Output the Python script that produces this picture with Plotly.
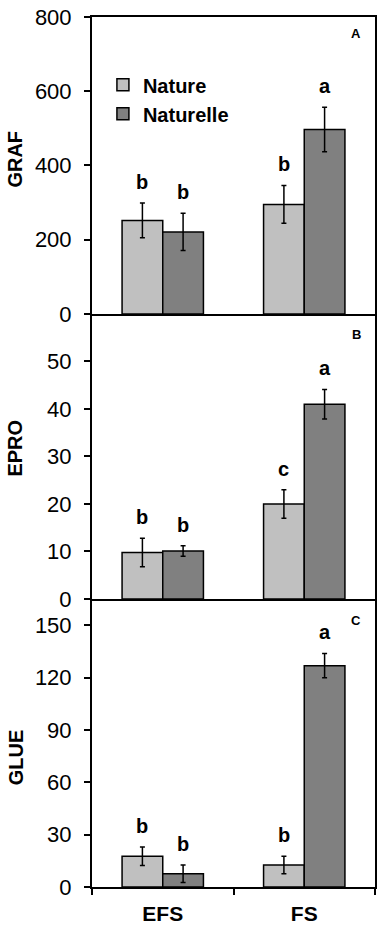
import plotly.graph_objects as go
from plotly.subplots import make_subplots

categories = ["EFS", "FS"]
series_names = ["Nature", "Naturelle"]

graf_nature = [252, 295]
graf_nature_err = [47, 51]
graf_naturelle = [221, 497]
graf_naturelle_err = [50, 60]
graf_letters_nature = ["b", "b"]
graf_letters_naturelle = ["b", "a"]

epro_nature = [9.8, 20.0]
epro_nature_err = [3.0, 3.0]
epro_naturelle = [10.1, 41.0]
epro_naturelle_err = [1.1, 3.1]
epro_letters_nature = ["b", "c"]
epro_letters_naturelle = ["b", "a"]

glue_nature = [17.6, 12.6]
glue_nature_err = [5.3, 5.0]
glue_naturelle = [7.6, 126.8]
glue_naturelle_err = [5.0, 7.0]
glue_letters_nature = ["b", "b"]
glue_letters_naturelle = ["b", "a"]

y_titles = ["GRAF", "EPRO", "GLUE"]
panel_labels = ["A", "B", "C"]
y_ranges = [[0, 800], [0, 60], [0, 165]]
y_ticks = [[0, 200, 400, 600, 800], [0, 10, 20, 30, 40, 50], [0, 30, 60, 90, 120, 150]]

FONT = "Arial, Liberation Sans, sans-serif"
colors = ["#c0c0c0", "#808080"]

panels = [
    (graf_nature, graf_nature_err, graf_naturelle, graf_naturelle_err, graf_letters_nature, graf_letters_naturelle),
    (epro_nature, epro_nature_err, epro_naturelle, epro_naturelle_err, epro_letters_nature, epro_letters_naturelle),
    (glue_nature, glue_nature_err, glue_naturelle, glue_naturelle_err, glue_letters_nature, glue_letters_naturelle),
]

fig = make_subplots(rows=3, cols=1, shared_xaxes=True, vertical_spacing=0)

annotations = []
for i, (nv, ne, lv, le, nl, ll) in enumerate(panels):
    row = i + 1
    for j, (vals, errs, letters) in enumerate([(nv, ne, nl), (lv, le, ll)]):
        fig.add_trace(go.Bar(
            x=categories, y=vals, name=series_names[j],
            marker=dict(color=colors[j], line=dict(color="black", width=1.5)),
            error_y=dict(type="data", array=errs, visible=True, color="black", thickness=1.5, width=2.5),
            showlegend=(i == 0), legendgroup=series_names[j],
        ), row=row, col=1)
        xr = "x" if row == 1 else f"x{row}"
        yr = "y" if row == 1 else f"y{row}"
        for k, cat in enumerate(categories):
            annotations.append(dict(
                x=cat, y=vals[k] + errs[k], xref=xr, yref=yr,
                text=f"<b>{letters[k]}</b>", showarrow=False,
                xshift=(-20.5 if j == 0 else 20.5), yanchor="bottom", yshift=8,
                font=dict(family=FONT, size=20, color="black"),
            ))

# domains
H_TOP = 11
H_BOT = 37
plot_h = 930 - H_TOP - H_BOT
yA0 = (893 - 312) / plot_h
yB0 = (893 - 601) / plot_h
domains = [[yA0, 1], [yB0, yA0], [0, yB0]]
title_y = [155, 448, 762]
label_y = [28, 333, 623]

for i in range(3):
    row = i + 1
    fig.update_yaxes(
        row=row, col=1, range=y_ranges[i], tickvals=y_ticks[i], domain=domains[i],
        showline=True, linecolor="black", linewidth=2, mirror=True,
        ticks="outside", ticklen=6, tickwidth=1.5, tickcolor="black",
        ticklabelstandoff=8, ticklabeloverflow="allow",
        showgrid=False, zeroline=False,
        tickfont=dict(family=FONT, size=22, color="black"),
    )
    fig.update_xaxes(
        row=row, col=1, range=[-0.5, 1.5],
        showline=True, linecolor="black", linewidth=2, mirror=(row == 1),
        showgrid=False, zeroline=False,
        ticks="outside" if row == 3 else "", tickson="boundaries", ticklen=6, tickwidth=1.5, tickcolor="black",
        showticklabels=(row == 3), ticklabelstandoff=7,
        tickfont=dict(family=FONT, size=21, color="black"),
    )
    annotations.append(dict(
        xref="paper", yref="paper", x=(15 - 92) / 285, y=(893 - title_y[i]) / plot_h,
        text=f"<b>{y_titles[i]}</b>", textangle=-90, showarrow=False,
        xanchor="center", yanchor="middle",
        font=dict(family=FONT, size=20, color="black"),
    ))
    annotations.append(dict(
        xref="paper", yref="paper", x=(358 - 92) / 285, y=(893 - label_y[i]) / plot_h,
        text=f"<b>{panel_labels[i]}</b>", showarrow=False,
        xanchor="center", yanchor="middle",
        font=dict(family=FONT, size=13, color="black"),
    ))

fig.update_xaxes(row=3, col=1, ticktext=["<b>EFS</b>", "<b>FS</b>"], tickvals=categories)

fig.update_layout(
    width=382, height=930,
    margin=dict(l=92, r=5, t=H_TOP, b=H_BOT),
    barmode="group", bargap=0.425, bargroupgap=0,
    plot_bgcolor="white", paper_bgcolor="white",
    annotations=annotations,
    legend=dict(
        x=(103 - 92) / 285, y=(893 - 60) / plot_h, xanchor="left", yanchor="top",
        font=dict(family=FONT, size=20, color="black", weight="bold"),
        bgcolor="rgba(0,0,0,0)", tracegroupgap=0, itemwidth=30,
    ),
    font=dict(family=FONT, color="black"),
)

fig.write_html(
    "out.html",
    config={"displayModeBar": False},
    post_script="document.body.style.margin='0';document.body.style.overflow='hidden';",
)
